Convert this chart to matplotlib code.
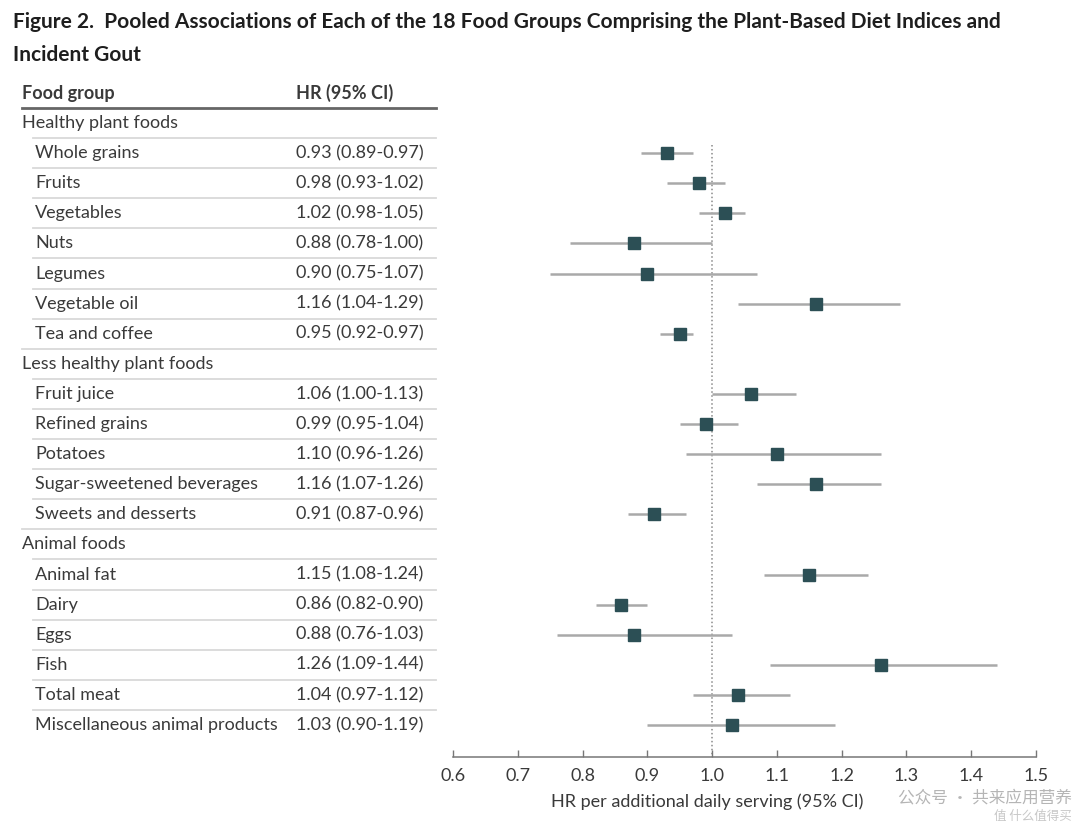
"""
Forest plot: pooled HRs of 18 food groups and incident gout.
"""
import matplotlib
matplotlib.use("Agg")
import matplotlib.pyplot as plt
import matplotlib.transforms as mtransforms
from matplotlib.lines import Line2D

W, H = 1080, 827

groups = ["Healthy plant foods", "Less healthy plant foods", "Animal foods"]
group_items = [
    ["Whole grains", "Fruits", "Vegetables", "Nuts", "Legumes",
     "Vegetable oil", "Tea and coffee"],
    ["Fruit juice", "Refined grains", "Potatoes",
     "Sugar-sweetened beverages", "Sweets and desserts"],
    ["Animal fat", "Dairy", "Eggs", "Fish", "Total meat",
     "Miscellaneous animal products"],
]
hr = [0.93, 0.98, 1.02, 0.88, 0.90, 1.16, 0.95,
      1.06, 0.99, 1.10, 1.16, 0.91,
      1.15, 0.86, 0.88, 1.26, 1.04, 1.03]
ci_low = [0.89, 0.93, 0.98, 0.78, 0.75, 1.04, 0.92,
          1.00, 0.95, 0.96, 1.07, 0.87,
          1.08, 0.82, 0.76, 1.09, 0.97, 0.90]
ci_high = [0.97, 1.02, 1.05, 1.00, 1.07, 1.29, 0.97,
           1.13, 1.04, 1.26, 1.26, 0.96,
           1.24, 0.90, 1.03, 1.44, 1.12, 1.19]
xticks = [0.6, 0.7, 0.8, 0.9, 1.0, 1.1, 1.2, 1.3, 1.4, 1.5]

FONT = "Lato"
FS = 13
TXT = "#3a3a3a"
SQ = "#2c4f55"
BAR = "#a9a9a9"


def fx(px):
    return px / W


def fy(py):
    return 1 - py / H


# build row list: (label, kind, index into hr)
rows = []
k = 0
for g, items in zip(groups, group_items):
    rows.append((g, "group", None))
    for it in items:
        rows.append((it, "item", k))
        k += 1

# row i sits at pixel 123 + 30.1*i
row_top, row_h = 123, 30.1
ax_top, ax_bot = 108, 757
y_top = (ax_top - row_top) / row_h
y_bot = (ax_bot - row_top) / row_h

fig = plt.figure(figsize=(W / 100, H / 100), dpi=100)
ax_l, ax_r = 453, 1036
ax = fig.add_axes([fx(ax_l), fy(ax_bot), fx(ax_r) - fx(ax_l), (ax_bot - ax_top) / H])
ax.set_xlim(0.6, 1.5)
ax.set_ylim(y_bot, y_top)

for i, (label, kind, idx) in enumerate(rows):
    if kind != "item":
        continue
    ax.plot([ci_low[idx], ci_high[idx]], [i, i], color=BAR, lw=1.8,
            solid_capstyle="butt", zorder=2)
    ax.plot(hr[idx], i, marker="s", ms=8.3, color=SQ, mec=SQ, zorder=3)

ax.vlines(1.0, 0.72, y_bot, colors="#8a8a8a", linestyles=(0, (1, 1.6)),
          lw=1.1, zorder=1)

for s in ["top", "right", "left"]:
    ax.spines[s].set_visible(False)
ax.spines["bottom"].set_color("#777777")
ax.spines["bottom"].set_linewidth(1.1)
ax.set_yticks([])
ax.set_xticks(xticks)
ax.set_xticklabels([f"{t:.1f}" for t in xticks], fontfamily=FONT,
                   fontsize=FS, color=TXT)
ax.tick_params(axis="x", direction="in", length=5, width=1, color="#777777",
               pad=8)
ax.set_xlabel("HR per additional daily serving (95% CI)", fontfamily=FONT,
              fontsize=FS, color=TXT)
# label sits left of the axis centre in the source, under ~1.0
ax.xaxis.set_label_coords((707 - ax_l) / (ax_r - ax_l), -(802 - ax_bot) / (ax_bot - ax_top),
                          transform=ax.transAxes)
ax.xaxis.label.set_va("center")

# table text: x in figure fraction, y in data rows
trans = mtransforms.blended_transform_factory(fig.transFigure, ax.transData)

fig.text(fx(13), fy(22), "Figure 2.  Pooled Associations of Each of the 18 Food "
         "Groups Comprising the Plant-Based Diet Indices and",
         fontfamily=FONT, fontweight="bold", fontsize=15, color="#1e1e1e",
         va="center")
fig.text(fx(13), fy(55), "Incident Gout", fontfamily=FONT, fontweight="bold",
         fontsize=15, color="#1e1e1e", va="center")

fig.text(fx(22), fy(93), "Food group", fontfamily=FONT, fontweight="bold",
         fontsize=FS, color=TXT, va="center")
fig.text(fx(296), fy(93), "HR (95% CI)", fontfamily=FONT, fontweight="bold",
         fontsize=FS, color=TXT, va="center")
fig.add_artist(Line2D([fx(22), fx(436)], [fy(108), fy(108)], color="#666666",
                      lw=2))

for i, (label, kind, idx) in enumerate(rows):
    if kind == "group":
        fig.text(fx(22), i, label, transform=trans, fontfamily=FONT,
                 fontsize=FS, color=TXT, va="center")
    else:
        fig.text(fx(35), i, label, transform=trans, fontfamily=FONT,
                 fontsize=FS, color=TXT, va="center")
        fig.text(fx(296), i,
                 f"{hr[idx]:.2f} ({ci_low[idx]:.2f}-{ci_high[idx]:.2f})",
                 transform=trans, fontfamily=FONT, fontsize=FS, color=TXT,
                 va="center")
    # separator under each row except the last
    if i < len(rows) - 1:
        x0 = 22 if rows[i + 1][1] == "group" else 33
        fig.add_artist(Line2D([fx(x0), fx(436)], [i + 0.5, i + 0.5],
                              transform=trans, color="#d9d9d9", lw=1.3))

# watermark overlay seen on the source image, kept clear of the tick labels
fig.text(fx(1072), fy(798), "公众号 · 共来应用营养", fontfamily="Noto Sans CJK SC",
         fontsize=12, color="#b5b5b5", va="center", ha="right")
fig.text(fx(1072), fy(816), "值 什么值得买", fontfamily="Noto Sans CJK SC",
         fontsize=9, color="#c8c8c8", va="center", ha="right")

fig.savefig("out.png", dpi=100)
